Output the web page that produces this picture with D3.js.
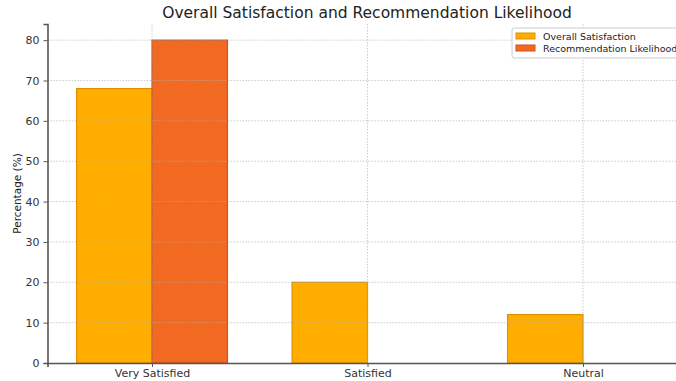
<!DOCTYPE html>
<html>
<head>
<meta charset="utf-8">
<script src="https://cdn.jsdelivr.net/npm/d3@7"></script>
<style>
  body { margin: 0; background: #fff; }
  svg { display: block; font-family: "DejaVu Sans", sans-serif; }
</style>
</head>
<body>
<svg id="chart" width="676" height="381"></svg>
<script>
const categories = ["Very Satisfied", "Satisfied", "Neutral"];
const seriesNames = ["Overall Satisfaction", "Recommendation Likelihood"];
const overallSatisfaction = [68, 20, 12];
const recommendationLikelihood = [80, 0, 0];
const yTicks = [0, 10, 20, 30, 40, 50, 60, 70, 80];

const colors = ["#FFAE00", "#F26A22"];
const edges = ["#E08F00", "#D1501A"];

const svg = d3.select("#chart");
const margin = { top: 24, left: 47 };
const plotBottom = 363;

// matplotlib-style positions: category index with bar width 0.35
const x = d3.scaleLinear().domain([-0.485, 2.485]).range([47.5, 687.5]);
const y = d3.scaleLinear().domain([0, 84]).range([plotBottom, margin.top]);
const barW = 0.35;

const series = [overallSatisfaction, recommendationLikelihood];

// bars
series.forEach((vals, si) => {
  const offset = si === 0 ? -barW / 2 : barW / 2;
  svg.append("g").selectAll("rect")
    .data(vals)
    .join("rect")
    .attr("x", (d, i) => x(i + offset - barW / 2))
    .attr("width", x(barW) - x(0))
    .attr("y", d => y(d))
    .attr("height", d => y(0) - y(d))
    .attr("fill", colors[si])
    .attr("stroke", edges[si])
    .attr("stroke-width", 1.2);
});

// grid (drawn over bars, as in the original)
const grid = svg.append("g")
  .attr("stroke", "#b0b0b0")
  .attr("stroke-width", 0.8)
  .attr("stroke-dasharray", "1.5,1.5")
  .attr("opacity", 0.8);

yTicks.filter(t => t > 0).forEach(t => {
  grid.append("line")
    .attr("x1", x(-0.485)).attr("x2", 676)
    .attr("y1", y(t)).attr("y2", y(t));
});
categories.forEach((c, i) => {
  grid.append("line")
    .attr("x1", x(i)).attr("x2", x(i))
    .attr("y1", margin.top).attr("y2", plotBottom);
});

// axes
const yAxis = svg.append("g")
  .attr("transform", `translate(${x(-0.485)},0)`)
  .call(d3.axisLeft(y).tickValues(yTicks).tickSize(4).tickPadding(4));

const xAxis = svg.append("g")
  .attr("transform", `translate(0,${plotBottom})`)
  .call(d3.axisBottom(x).tickValues([0, 1, 2])
    .tickFormat(i => categories[i]).tickSize(4).tickPadding(2));

[yAxis, xAxis].forEach(a => {
  a.select(".domain").attr("stroke", "#555").attr("stroke-width", 1.6);
  a.selectAll(".tick line").attr("stroke", "#555");
  a.selectAll(".tick text")
    .attr("fill", "#333")
    .attr("font-size", 11)
    .attr("font-family", "DejaVu Sans, sans-serif");
});

// title
svg.append("text")
  .attr("x", 367).attr("y", 18)
  .attr("text-anchor", "middle")
  .attr("font-size", 15.5)
  .attr("fill", "#222")
  .text("Overall Satisfaction and Recommendation Likelihood");

// y label
svg.append("text")
  .attr("transform", `translate(21,${(margin.top + plotBottom) / 2}) rotate(-90)`)
  .attr("text-anchor", "middle")
  .attr("font-size", 10.5)
  .attr("fill", "#222")
  .text("Percentage (%)");

// legend
const legend = svg.append("g").attr("transform", "translate(512,28)");
legend.append("rect")
  .attr("x", 0).attr("y", 0)
  .attr("width", 180).attr("height", 30)
  .attr("rx", 2)
  .attr("fill", "#fff").attr("fill-opacity", 0.85)
  .attr("stroke", "#ccc");
seriesNames.forEach((name, i) => {
  legend.append("rect")
    .attr("x", 4).attr("y", 5 + i * 12)
    .attr("width", 19).attr("height", 6)
    .attr("fill", colors[i])
    .attr("stroke", edges[i]);
  legend.append("text")
    .attr("x", 31).attr("y", 11.5 + i * 12)
    .attr("font-size", 9.5)
    .attr("fill", "#222")
    .text(name);
});
</script>
</body>
</html>
